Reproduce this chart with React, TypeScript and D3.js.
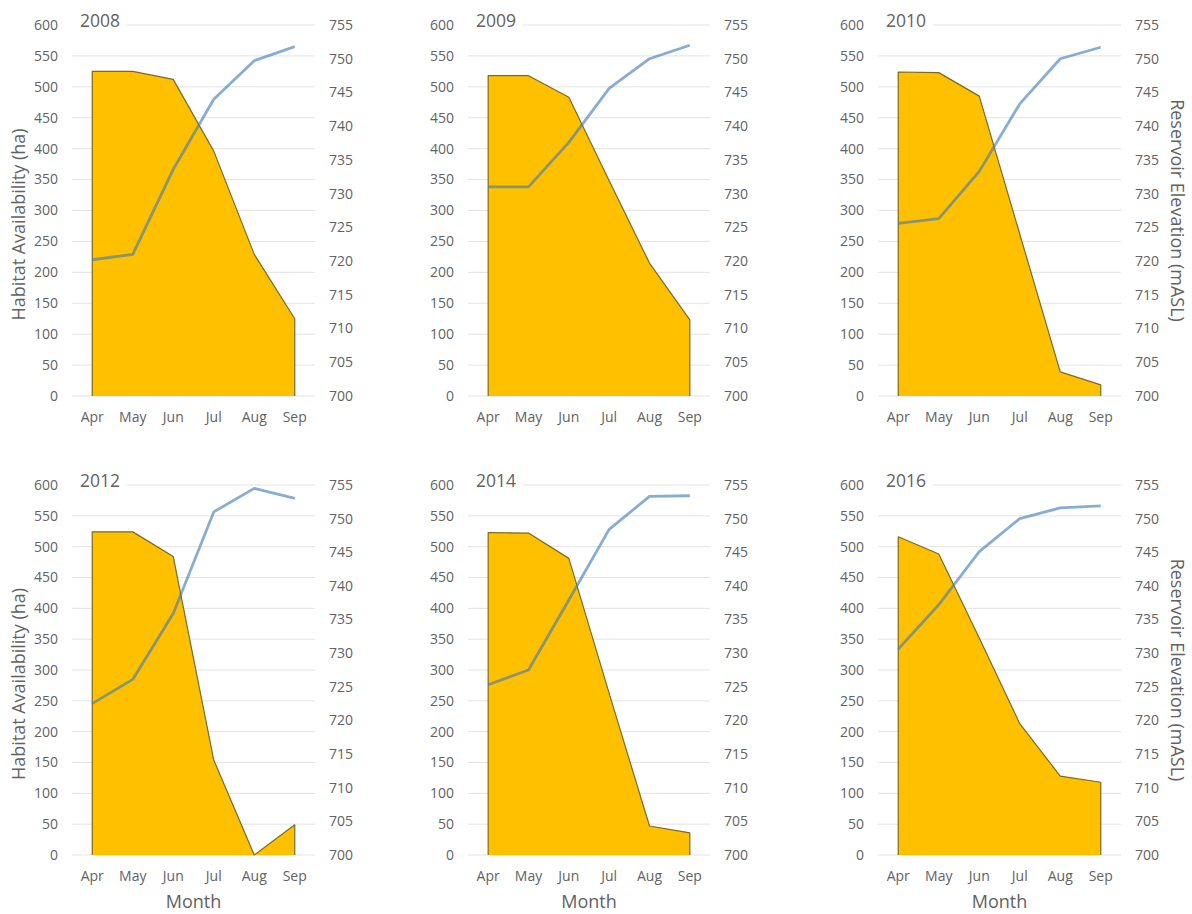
import React from "react";
import * as d3 from "d3";

// Months on the shared x axis
const months = ["Apr", "May", "Jun", "Jul", "Aug", "Sep"];

// Panel years
const years = ["2008", "2009", "2010", "2012", "2014", "2016"];

// Habitat availability (ha), one array per year
const habitat2008 = [525, 525, 512, 396, 229, 125];
const habitat2009 = [518, 518, 483, 348, 215, 123];
const habitat2010 = [524, 523, 485, 262, 39, 18];
const habitat2012 = [524, 524, 484, 154, 0, 49];
const habitat2014 = [523, 522, 481, 262, 47, 36];
const habitat2016 = [516, 488, 352, 213, 128, 118];

// Reservoir elevation (mASL), one array per year
const elevation2008 = [720.2, 721.0, 733.6, 744.0, 749.7, 751.8];
const elevation2009 = [731.0, 731.0, 737.6, 745.6, 750.0, 752.0];
const elevation2010 = [725.6, 726.3, 733.3, 743.3, 750.0, 751.7];
const elevation2012 = [722.5, 726.1, 735.9, 751.0, 754.5, 753.0];
const elevation2014 = [725.3, 727.5, 737.9, 748.4, 753.3, 753.4];
const elevation2016 = [730.6, 737.2, 745.1, 750.0, 751.6, 751.9];

const habitatSeries = [habitat2008, habitat2009, habitat2010, habitat2012, habitat2014, habitat2016];
const elevationSeries = [elevation2008, elevation2009, elevation2010, elevation2012, elevation2014, elevation2016];

// Axis ticks
const habitatTicks = d3.range(0, 601, 50);
const elevationTicks = d3.range(700, 756, 5);

const W = 1192;
const H = 914;
const FONT = "'Open Sans', 'Noto Sans', sans-serif";
const TEXT = "#626262";
const GRID = "#e3e3e3";
const AREA_FILL = "#FFC000";
const AREA_STROKE = "#7d6a1c";
const LINE = "#3f7ab8";

// Plot frames for the 3 x 2 grid
const colRanges: [number, number][] = [
  [72, 315],
  [468, 710],
  [878, 1121],
];
const rowRanges: [number, number][] = [
  [396, 25],
  [855, 485],
];

function Panel({ idx }: { idx: number }) {
  const col = idx % 3;
  const row = Math.floor(idx / 3);
  const [x0, x1] = colRanges[col];
  const [yBottom, yTop] = rowRanges[row];

  const x = d3.scaleBand<string>().domain(months).range([x0, x1]).padding(0);
  const yL = d3.scaleLinear().domain([0, 600]).range([yBottom, yTop]);
  const yR = d3.scaleLinear().domain([700, 755]).range([yBottom, yTop]);
  const cx = (m: string) => (x(m) as number) + x.bandwidth() / 2;

  const habitat = habitatSeries[idx];
  const elevation = elevationSeries[idx];

  const area = d3
    .area<number>()
    .x((_, i) => cx(months[i]))
    .y0(yL(0))
    .y1((d) => yL(d));
  const areaOutline = d3
    .line<[number, number]>()
    .x((d) => d[0])
    .y((d) => d[1]);
  const outlinePts: [number, number][] = [
    [cx(months[0]), yL(0)],
    ...habitat.map((d, i) => [cx(months[i]), yL(d)] as [number, number]),
    [cx(months[months.length - 1]), yL(0)],
  ];
  const line = d3
    .line<number>()
    .x((_, i) => cx(months[i]))
    .y((d) => yR(d));

  const title = years[idx];

  return (
    <g>
      {habitatTicks.map((t) => (
        <line key={"g" + t} x1={x0} x2={x1} y1={yL(t)} y2={yL(t)} stroke={GRID} strokeWidth={1} />
      ))}
      {habitatTicks.map((t) => (
        <text
          key={"l" + t}
          x={x0 - 14}
          y={yL(t)}
          dy="0.35em"
          textAnchor="end"
          fontSize={14}
          fill={TEXT}
          fontFamily={FONT}
        >
          {t}
        </text>
      ))}
      {elevationTicks.map((t) => (
        <text
          key={"r" + t}
          x={x1 + 14}
          y={yR(t)}
          dy="0.35em"
          textAnchor="start"
          fontSize={14}
          fill={TEXT}
          fontFamily={FONT}
        >
          {t}
        </text>
      ))}
      {months.map((m) => (
        <text
          key={"m" + m}
          x={cx(m)}
          y={yBottom + 21}
          dy="0.35em"
          textAnchor="middle"
          fontSize={14}
          fill={TEXT}
          fontFamily={FONT}
        >
          {m}
        </text>
      ))}
      <path d={area(habitat) ?? ""} fill={AREA_FILL} stroke="none" />
      <path d={areaOutline(outlinePts) ?? ""} fill="none" stroke={AREA_STROKE} strokeWidth={1.2} strokeLinejoin="round" />
      <path
        d={line(elevation) ?? ""}
        fill="none"
        stroke={LINE}
        strokeOpacity={0.62}
        strokeWidth={2.8}
        strokeLinejoin="round"
      />
      <rect x={x0} y={yTop - 14} width={55} height={20} fill="#ffffff" />
      <text x={x0 + 8} y={yTop + 1.5} fontSize={17.5} fill={TEXT} fontFamily={FONT}>
        {title}
      </text>
      {col === 0 && (
        <text
          transform={`translate(${19},${(yBottom + yTop) / 2 + 14}) rotate(-90)`}
          textAnchor="middle"
          dy="0.35em"
          fontSize={18}
          fill={TEXT}
          fontFamily={FONT}
        >
          Habitat Availability (ha)
        </text>
      )}
      {col === 2 && (
        <text
          transform={`translate(${1177},${(yBottom + yTop) / 2}) rotate(90)`}
          textAnchor="middle"
          dy="0.35em"
          fontSize={18}
          fill={TEXT}
          fontFamily={FONT}
        >
          Reservoir Elevation (mASL)
        </text>
      )}
      {row === 1 && (
        <text
          x={(x0 + x1) / 2}
          y={902}
          dy="0.35em"
          textAnchor="middle"
          fontSize={18}
          fill={TEXT}
          fontFamily={FONT}
        >
          Month
        </text>
      )}
    </g>
  );
}

export default function App() {
  return (
    <svg
      width={W}
      height={H}
      viewBox={`0 0 ${W} ${H}`}
      style={{ position: "absolute", left: 0, top: 0, background: "#ffffff" }}
    >
      <rect width={W} height={H} fill="#ffffff" />
      {years.map((_, i) => (
        <Panel key={i} idx={i} />
      ))}
    </svg>
  );
}
